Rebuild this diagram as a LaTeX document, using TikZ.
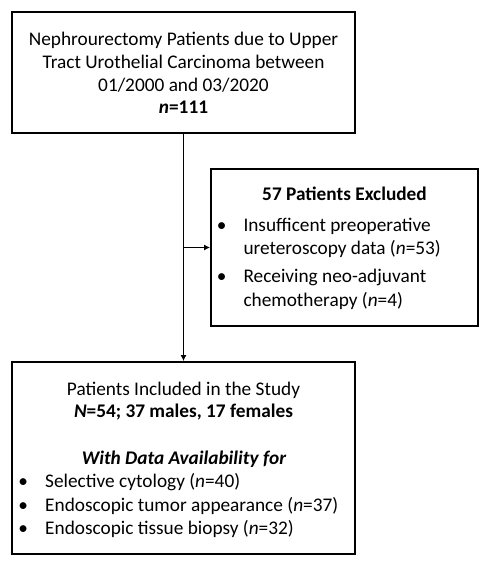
\documentclass[tikz,border=0pt]{standalone}
\usepackage{fontspec}
\setmainfont{Carlito}
\usetikzlibrary{arrows.meta}
\tikzset{
  box/.style={draw, line width=1.8pt, inner sep=0pt, fill=white},
  ctxt/.style={anchor=base, inner sep=0pt, font=\fontsize{19.3}{23}\selectfont},
  ltxt/.style={anchor=base west, inner sep=0pt, font=\fontsize{19.3}{23}\selectfont},
  bul/.style={anchor=base, inner sep=0pt, font=\fontsize{19.3}{23}\selectfont},
  conn/.style={line width=1.7pt, -{Latex[length=6pt,width=6pt]}}
}
\begin{document}
\begin{tikzpicture}[x=1pt,y=-1pt]
\useasboundingbox (0,0) rectangle (491,566);
% boxes
\node[box, minimum width=343pt, minimum height=121pt] (top) at (183.5,72.5) {};
\node[box, minimum width=267pt, minimum height=157pt] (excl) at (344.5,247.5) {};
\node[box, minimum width=343pt, minimum height=192pt] (incl) at (183.5,458) {};
% top text
\node[ctxt] (t1) at (183.5,45) {Nephrourectomy Patients due to Upper};
\node[ctxt] (t2) at (183.5,68) {Tract Urothelial Carcinoma between};
\node[ctxt] (t3) at (183.5,91) {01/2000 and 03/2020};
\node[ctxt] (t4) at (183.5,113.5) {\textbf{\textit{n}=111}};
% excluded text
\node[ctxt] (e0) at (344.5,200.5) {\textbf{57 Patients Excluded}};
\node[bul] (eb1) at (221.7,231) {\textbullet};
\node[ltxt] (e1) at (243.3,231) {Insufficent preoperative};
\node[ltxt] (e2) at (243.3,254.3) {ureteroscopy data (\textit{n}=53)};
\node[bul] (eb2) at (221.7,282.7) {\textbullet};
\node[ltxt] (e3) at (243.3,282.7) {Receiving neo-adjuvant};
\node[ltxt] (e4) at (243.3,306) {chemotherapy (\textit{n}=4)};
% included text
\node[ctxt] (i1) at (183.5,395) {Patients Included in the Study};
\node[ctxt] (i2) at (183.5,417.7) {\textbf{\textit{N}=54; 37 males, 17 females}};
\node[ctxt] (i3) at (184,464.3) {\textbf{\textit{With Data Availability for}}};
\node[bul] (ib1) at (23.3,487.7) {\textbullet};
\node[ltxt] (i4) at (45,487.7) {Selective cytology (\textit{n}=40)};
\node[bul] (ib2) at (23.3,511) {\textbullet};
\node[ltxt] (i5) at (45,511) {Endoscopic tumor appearance (\textit{n}=37)};
\node[bul] (ib3) at (23.3,534) {\textbullet};
\node[ltxt] (i6) at (45,534) {Endoscopic tissue biopsy (\textit{n}=32)};
% connectors
\coordinate (j) at (183.5,247.5);
\draw[conn] (top.south) -- (incl.north);
\draw[conn] (j) -- (excl.west);
\end{tikzpicture}
\end{document}
